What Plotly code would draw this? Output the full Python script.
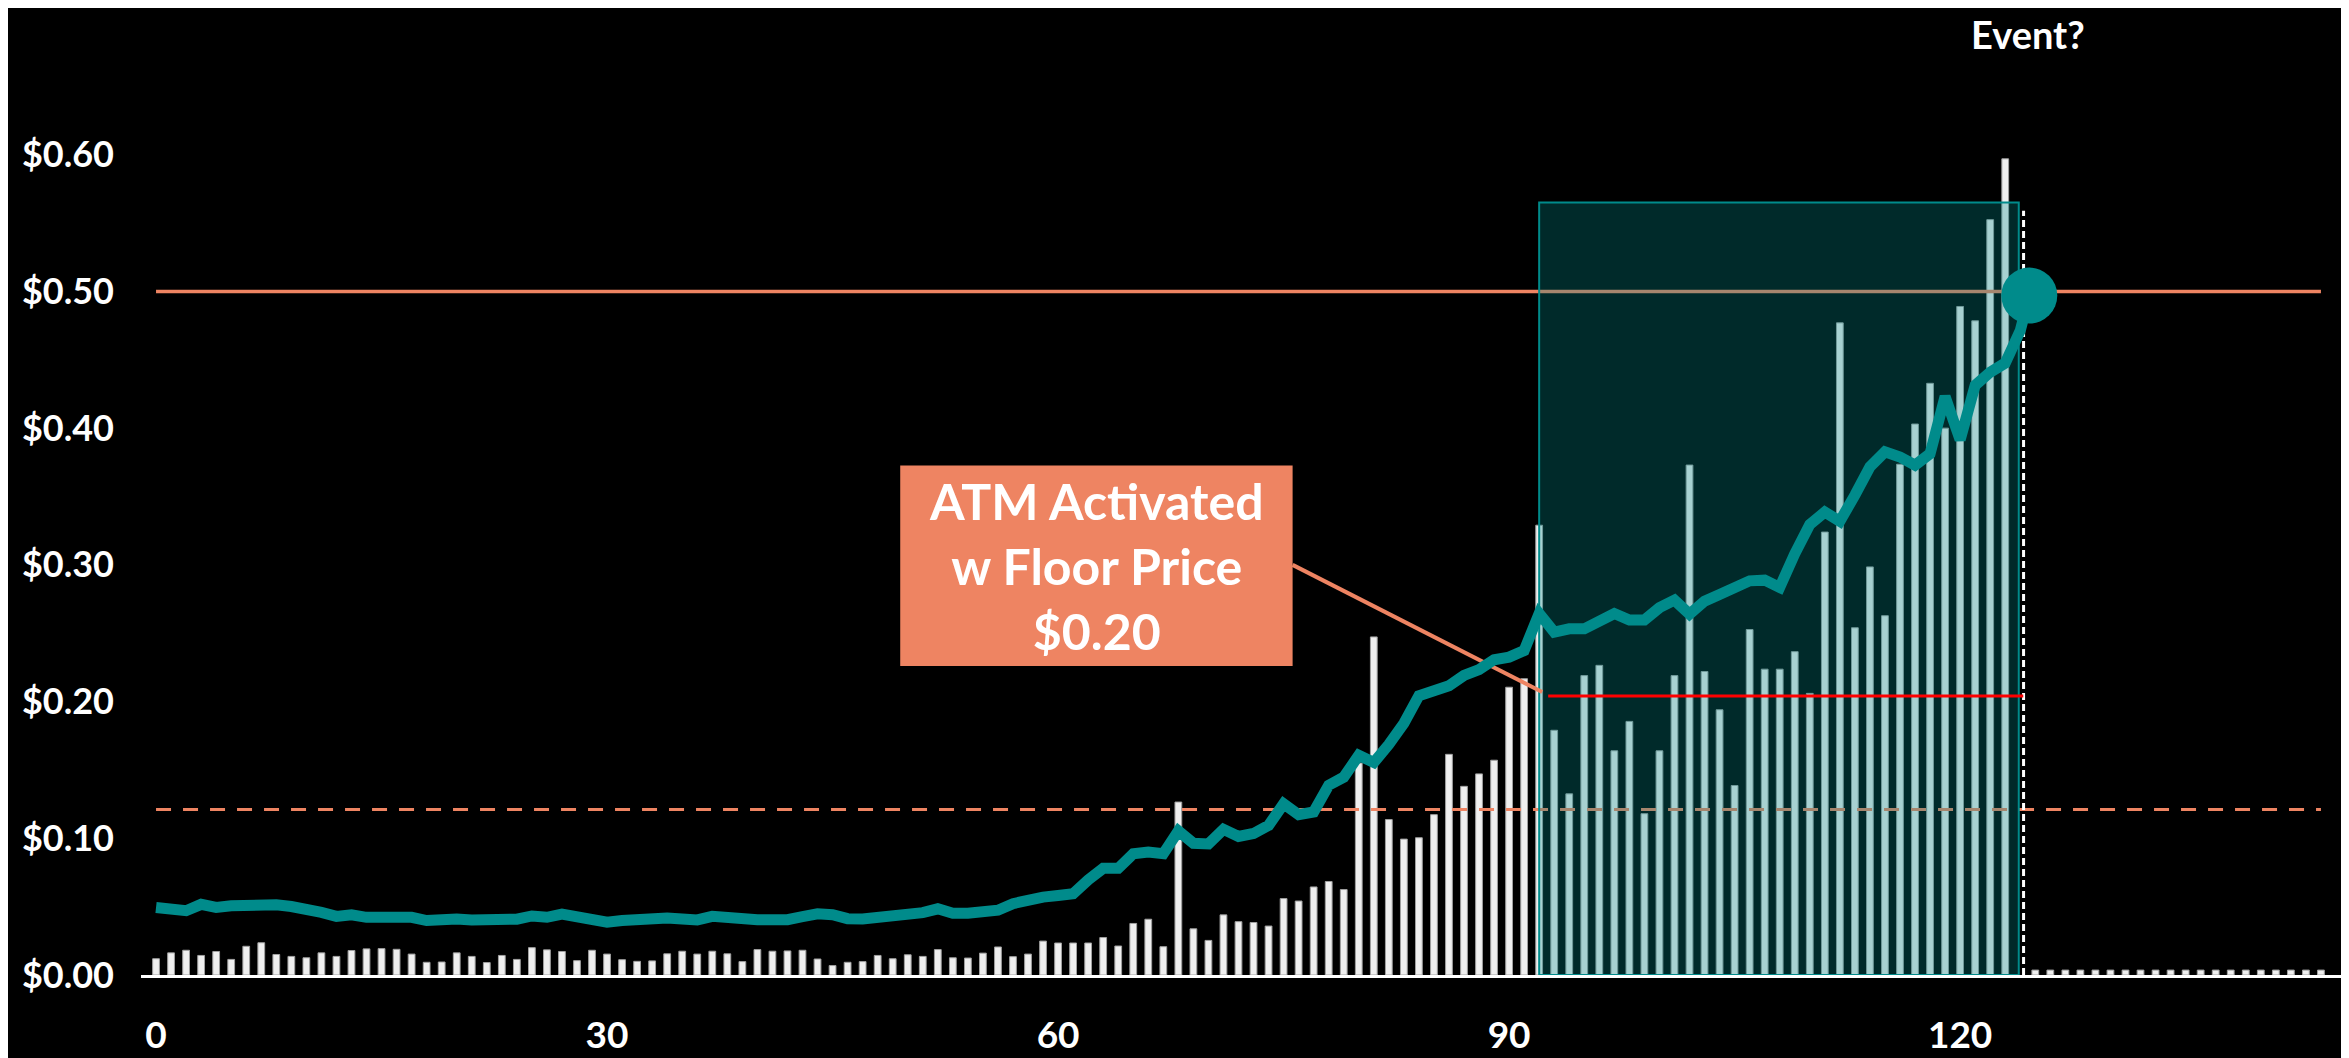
import plotly.graph_objects as go

# ---------------- data ----------------
# daily volume-style bars (index 0..123)
bar_values = [
    0.0119, 0.0162, 0.0181, 0.0143, 0.0172, 0.0114, 0.0210, 0.0236, 0.0150, 0.0136,
    0.0126, 0.0162, 0.0136, 0.0179, 0.0191, 0.0193, 0.0188, 0.0153, 0.0093, 0.0095,
    0.0162, 0.0136, 0.0091, 0.0143, 0.0114, 0.0200, 0.0184, 0.0172, 0.0105, 0.0181,
    0.0153, 0.0112, 0.0100, 0.0103, 0.0155, 0.0174, 0.0153, 0.0174, 0.0155, 0.0098,
    0.0186, 0.0174, 0.0176, 0.0181, 0.0117, 0.0069, 0.0093, 0.0098, 0.0143, 0.0119,
    0.0148, 0.0136, 0.0186, 0.0126, 0.0124, 0.0160, 0.0205, 0.0134, 0.0153, 0.0248,
    0.0234, 0.0234, 0.0234, 0.0274, 0.0212, 0.0377, 0.0408, 0.0207, 0.1265, 0.0338,
    0.0253, 0.0440, 0.0390, 0.0384, 0.0358, 0.0559, 0.0541, 0.0644, 0.0684, 0.0625,
    0.1550, 0.2473, 0.1137, 0.0994, 0.1004, 0.1173, 0.1614, 0.1380, 0.1471, 0.1571,
    0.2105, 0.2167, 0.3290, 0.1790, 0.1325, 0.2190, 0.2265, 0.1640, 0.1855, 0.1180,
    0.1640, 0.2190, 0.3730, 0.2220, 0.1940, 0.1386, 0.2527, 0.2237, 0.2237, 0.2365,
    0.2060, 0.3240, 0.4770, 0.2540, 0.2985, 0.2628, 0.3736, 0.4030, 0.4328, 0.4000,
    0.4890, 0.4785, 0.5525, 0.5970,
]
pending_bar_value = 0.559          # dashed (pending) bar at index 124
tail_bar_values = [0.0036] * 20    # placeholder bars, index 125..144

price_values = [
    0.0494, 0.0482, 0.0470, 0.0517, 0.0494, 0.0506, 0.0510, 0.0522, 0.0513, 0.0501,
    0.0484, 0.0458, 0.0429, 0.0441, 0.0422, 0.0422, 0.0410, 0.0422, 0.0398, 0.0410,
    0.0410, 0.0403, 0.0398, 0.0398, 0.0408, 0.0432, 0.0422, 0.0446, 0.0425, 0.0403,
    0.0386, 0.0398, 0.0408, 0.0403, 0.0417, 0.0410, 0.0403, 0.0429, 0.0417, 0.0405,
    0.0405, 0.0405, 0.0405, 0.0427, 0.0448, 0.0441, 0.0412, 0.0410, 0.0420, 0.0427,
    0.0436, 0.0456, 0.0484, 0.0451, 0.0451, 0.0458, 0.0474, 0.0522, 0.0549, 0.0570,
    0.0582, 0.0594, 0.0696, 0.0780, 0.0780, 0.0887, 0.0899, 0.0887, 0.1054, 0.0963,
    0.0959, 0.1066, 0.1013, 0.1035, 0.1094, 0.1252, 0.1173, 0.1192, 0.1388, 0.1447,
    0.1607, 0.1554, 0.1686, 0.1840, 0.2043, 0.2072, 0.2115, 0.2191, 0.2234, 0.2306,
    0.2325, 0.2373, 0.2645, 0.2508, 0.2532, 0.2532, 0.2587, 0.2644, 0.2597, 0.2597,
    0.2687, 0.2742, 0.2640, 0.2735, 0.2783, 0.2835, 0.2883, 0.2888, 0.2835, 0.3081,
    0.3295, 0.3386, 0.3319, 0.3510, 0.3717, 0.3827, 0.3789, 0.3729, 0.3813, 0.4232,
    0.3915, 0.4313, 0.4409, 0.4476, 0.4714,
]
event_x = 124.6
event_price = 0.497

target_price = 0.50
threshold_price = 0.121
floor_price = 0.204
floor_start, floor_end = 92.6, 124.2
window_start, window_end, window_top = 92, 123.9, 0.565

x_tick_vals = [0, 30, 60, 90, 120]
x_tick_text = ["0", "30", "60", "90", "120"]
y_tick_vals = [0.0, 0.1, 0.2, 0.3, 0.4, 0.5, 0.6]
y_tick_text = ["$0.00", "$0.10", "$0.20", "$0.30", "$0.40", "$0.50", "$0.60"]

callout_lines = ["ATM Activated", "w Floor Price", "$0.20"]
event_label = "Event?"

# ---------------- derived ----------------
n_main = len(bar_values)
idx_main = list(range(n_main))
pending_idx = n_main
idx_tail = list(range(pending_idx + 1, pending_idx + 1 + len(tail_bar_values)))
x_first, x_last = 0, idx_tail[-1]
price_x = list(range(len(price_values))) + [event_x]
price_y = price_values + [event_price]

TEAL = "rgb(0,139,139)"
SALMON = "rgb(238,132,98)"
BAR_FILL = "#EFEFEF"
BAR_EDGE = "#A0A0A0"
FONT = "Lato"

fig = go.Figure()

fig.add_trace(go.Bar(
    x=idx_main + idx_tail, y=bar_values + tail_bar_values, width=0.45,
    marker=dict(color=BAR_FILL, line=dict(color=BAR_EDGE, width=1)),
    hoverinfo="skip", showlegend=False))

# reference lines (under the shaded window)
fig.add_trace(go.Scatter(x=[x_first, x_last], y=[target_price, target_price], mode="lines",
                         line=dict(color=SALMON, width=3.5), showlegend=False, hoverinfo="skip"))
fig.add_trace(go.Scatter(x=[x_first, x_last], y=[threshold_price, threshold_price], mode="lines",
                         line=dict(color=SALMON, width=3, dash="15px,12px"),
                         showlegend=False, hoverinfo="skip"))

# pending bar (dashed outline)
fig.add_trace(go.Scatter(x=[pending_idx + 0.22, pending_idx + 0.22], y=[0, pending_bar_value],
                         mode="lines", line=dict(color="white", width=3, dash="7px,4px"),
                         showlegend=False, hoverinfo="skip"))

# shaded window
fig.add_trace(go.Scatter(
    x=[window_start, window_start, window_end, window_end, window_start],
    y=[0, window_top, window_top, 0, 0], mode="lines", fill="toself",
    fillcolor="rgba(0,139,139,0.30)", line=dict(color=TEAL, width=2),
    showlegend=False, hoverinfo="skip"))

# callout box geometry (data coordinates)
box_x0, box_x1 = 49.5, 75.6
box_y0, box_y1 = 0.226, 0.3727

# connector from callout to floor line
fig.add_trace(go.Scatter(x=[box_x1, floor_start - 0.4], y=[0.300, floor_price + 0.003], mode="lines",
                         line=dict(color=SALMON, width=4), showlegend=False, hoverinfo="skip"))

# floor line
fig.add_trace(go.Scatter(x=[floor_start, floor_end], y=[floor_price, floor_price], mode="lines",
                         line=dict(color="rgb(255,0,0)", width=3), showlegend=False, hoverinfo="skip"))

# price line
fig.add_trace(go.Scatter(x=price_x, y=price_y, mode="lines",
                         line=dict(color=TEAL, width=11, shape="linear"),
                         showlegend=False, hoverinfo="skip"))
fig.add_trace(go.Scatter(x=[event_x], y=[event_price], mode="markers",
                         marker=dict(color=TEAL, size=56, line=dict(width=0)),
                         showlegend=False, hoverinfo="skip"))

fig.add_shape(type="rect", xref="x", yref="y", x0=box_x0, x1=box_x1, y0=box_y0, y1=box_y1,
              fillcolor=SALMON, line=dict(width=0), layer="above")
fig.add_annotation(x=(box_x0 + box_x1) / 2, y=(box_y0 + box_y1) / 2, xref="x", yref="y",
                   text="<br>".join(callout_lines), showarrow=False, align="center",
                   font=dict(family=FONT, size=50, color="white", weight="bold"))
fig.add_annotation(x=0.856, y=0.9837, xref="paper", yref="paper", text=event_label,
                   showarrow=False, xanchor="center", yanchor="middle",
                   font=dict(family=FONT, size=38, color="white", weight="bold"))

fig.update_layout(
    width=2349, height=1058,
    margin=dict(l=133, r=12, t=10, b=69),
    paper_bgcolor="black", plot_bgcolor="black",
    barmode="overlay",
    xaxis=dict(range=[-1.0, 145.6], tickvals=x_tick_vals, ticktext=x_tick_text,
               showgrid=False, zeroline=False, showline=True, linecolor="white", linewidth=3,
               ticks="", ticklabelstandoff=26,
               tickfont=dict(family=FONT, size=37, color="white", weight="bold")),
    yaxis=dict(range=[0, 0.7], tickvals=y_tick_vals, ticktext=y_tick_text,
               showgrid=False, zeroline=False, showline=False, ticks="", ticklabelstandoff=26,
               tickfont=dict(family=FONT, size=36, color="white", weight="bold")),
)

fig.write_html("out.html")
